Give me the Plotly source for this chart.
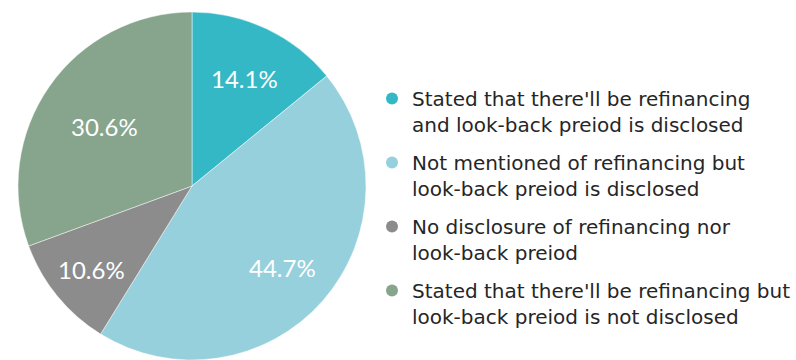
import math
import plotly.graph_objects as go

# Share of reports by how refinancing and the look-back period are disclosed
categories = [
    "Stated that there'll be refinancing<br>and look-back preiod is disclosed",
    "Not mentioned of refinancing but<br>look-back preiod is disclosed",
    "No disclosure of refinancing nor<br>look-back preiod",
    "Stated that there'll be refinancing but<br>look-back preiod is not disclosed",
]
shares = [14.1, 44.7, 10.6, 30.6]
colors = ["#35b8c6", "#96d0dc", "#8c8c8c", "#86a58c"]

W, H = 796, 360
# pie placement in pixels
CX, CY, R = 192, 187, 175
# radial position of each percentage label, as a fraction of the radius
label_radius = [0.695, 0.69, 0.74, 0.61]

fig = go.Figure()

fig.add_trace(go.Pie(
    values=shares,
    labels=categories,
    sort=False,
    direction="clockwise",
    rotation=0,
    marker=dict(colors=colors, line=dict(color="rgba(255,255,255,0.6)", width=0.8)),
    textinfo="none",
    showlegend=False,
    hoverinfo="label+value",
    domain=dict(x=[(CX - R) / W, (CX + R) / W], y=[0, 1 - (CY - R) / H]),
))

# Percentage labels at the middle angle of each slice
total = sum(shares)
cum = 0.0
for v, f in zip(shares, label_radius):
    mid = (cum + v / 2) / total * 2 * math.pi
    cum += v
    px = CX + f * R * math.sin(mid)
    py = CY - f * R * math.cos(mid)
    fig.add_annotation(
        x=px / W, y=1 - py / H, xref="paper", yref="paper",
        xanchor="center", yanchor="middle",
        text=f"{v:.1f}%", showarrow=False, yshift=-1,
        font=dict(family="Lato", size=24, color="white"),
    )

# Legend entries with round markers
for i, (name, c) in enumerate(zip(categories, colors)):
    fig.add_trace(go.Scatter(
        x=[None], y=[None], mode="markers", name=name,
        legendgroup=f"g{i}",
        marker=dict(color=c, size=16, symbol="circle"),
    ))

fig.update_layout(
    width=W, height=H,
    margin=dict(l=0, r=0, t=0, b=0),
    paper_bgcolor="white",
    plot_bgcolor="white",
    xaxis=dict(visible=False),
    yaxis=dict(visible=False),
    legend=dict(
        x=372 / W, xanchor="left",
        y=1 - 79 / H, yanchor="top",
        font=dict(family="DejaVu Sans", size=20, color="#262626"),
        tracegroupgap=9,
        valign="top",
        itemsizing="constant",
        bgcolor="rgba(0,0,0,0)",
    ),
)

fig.write_html("out.html")
